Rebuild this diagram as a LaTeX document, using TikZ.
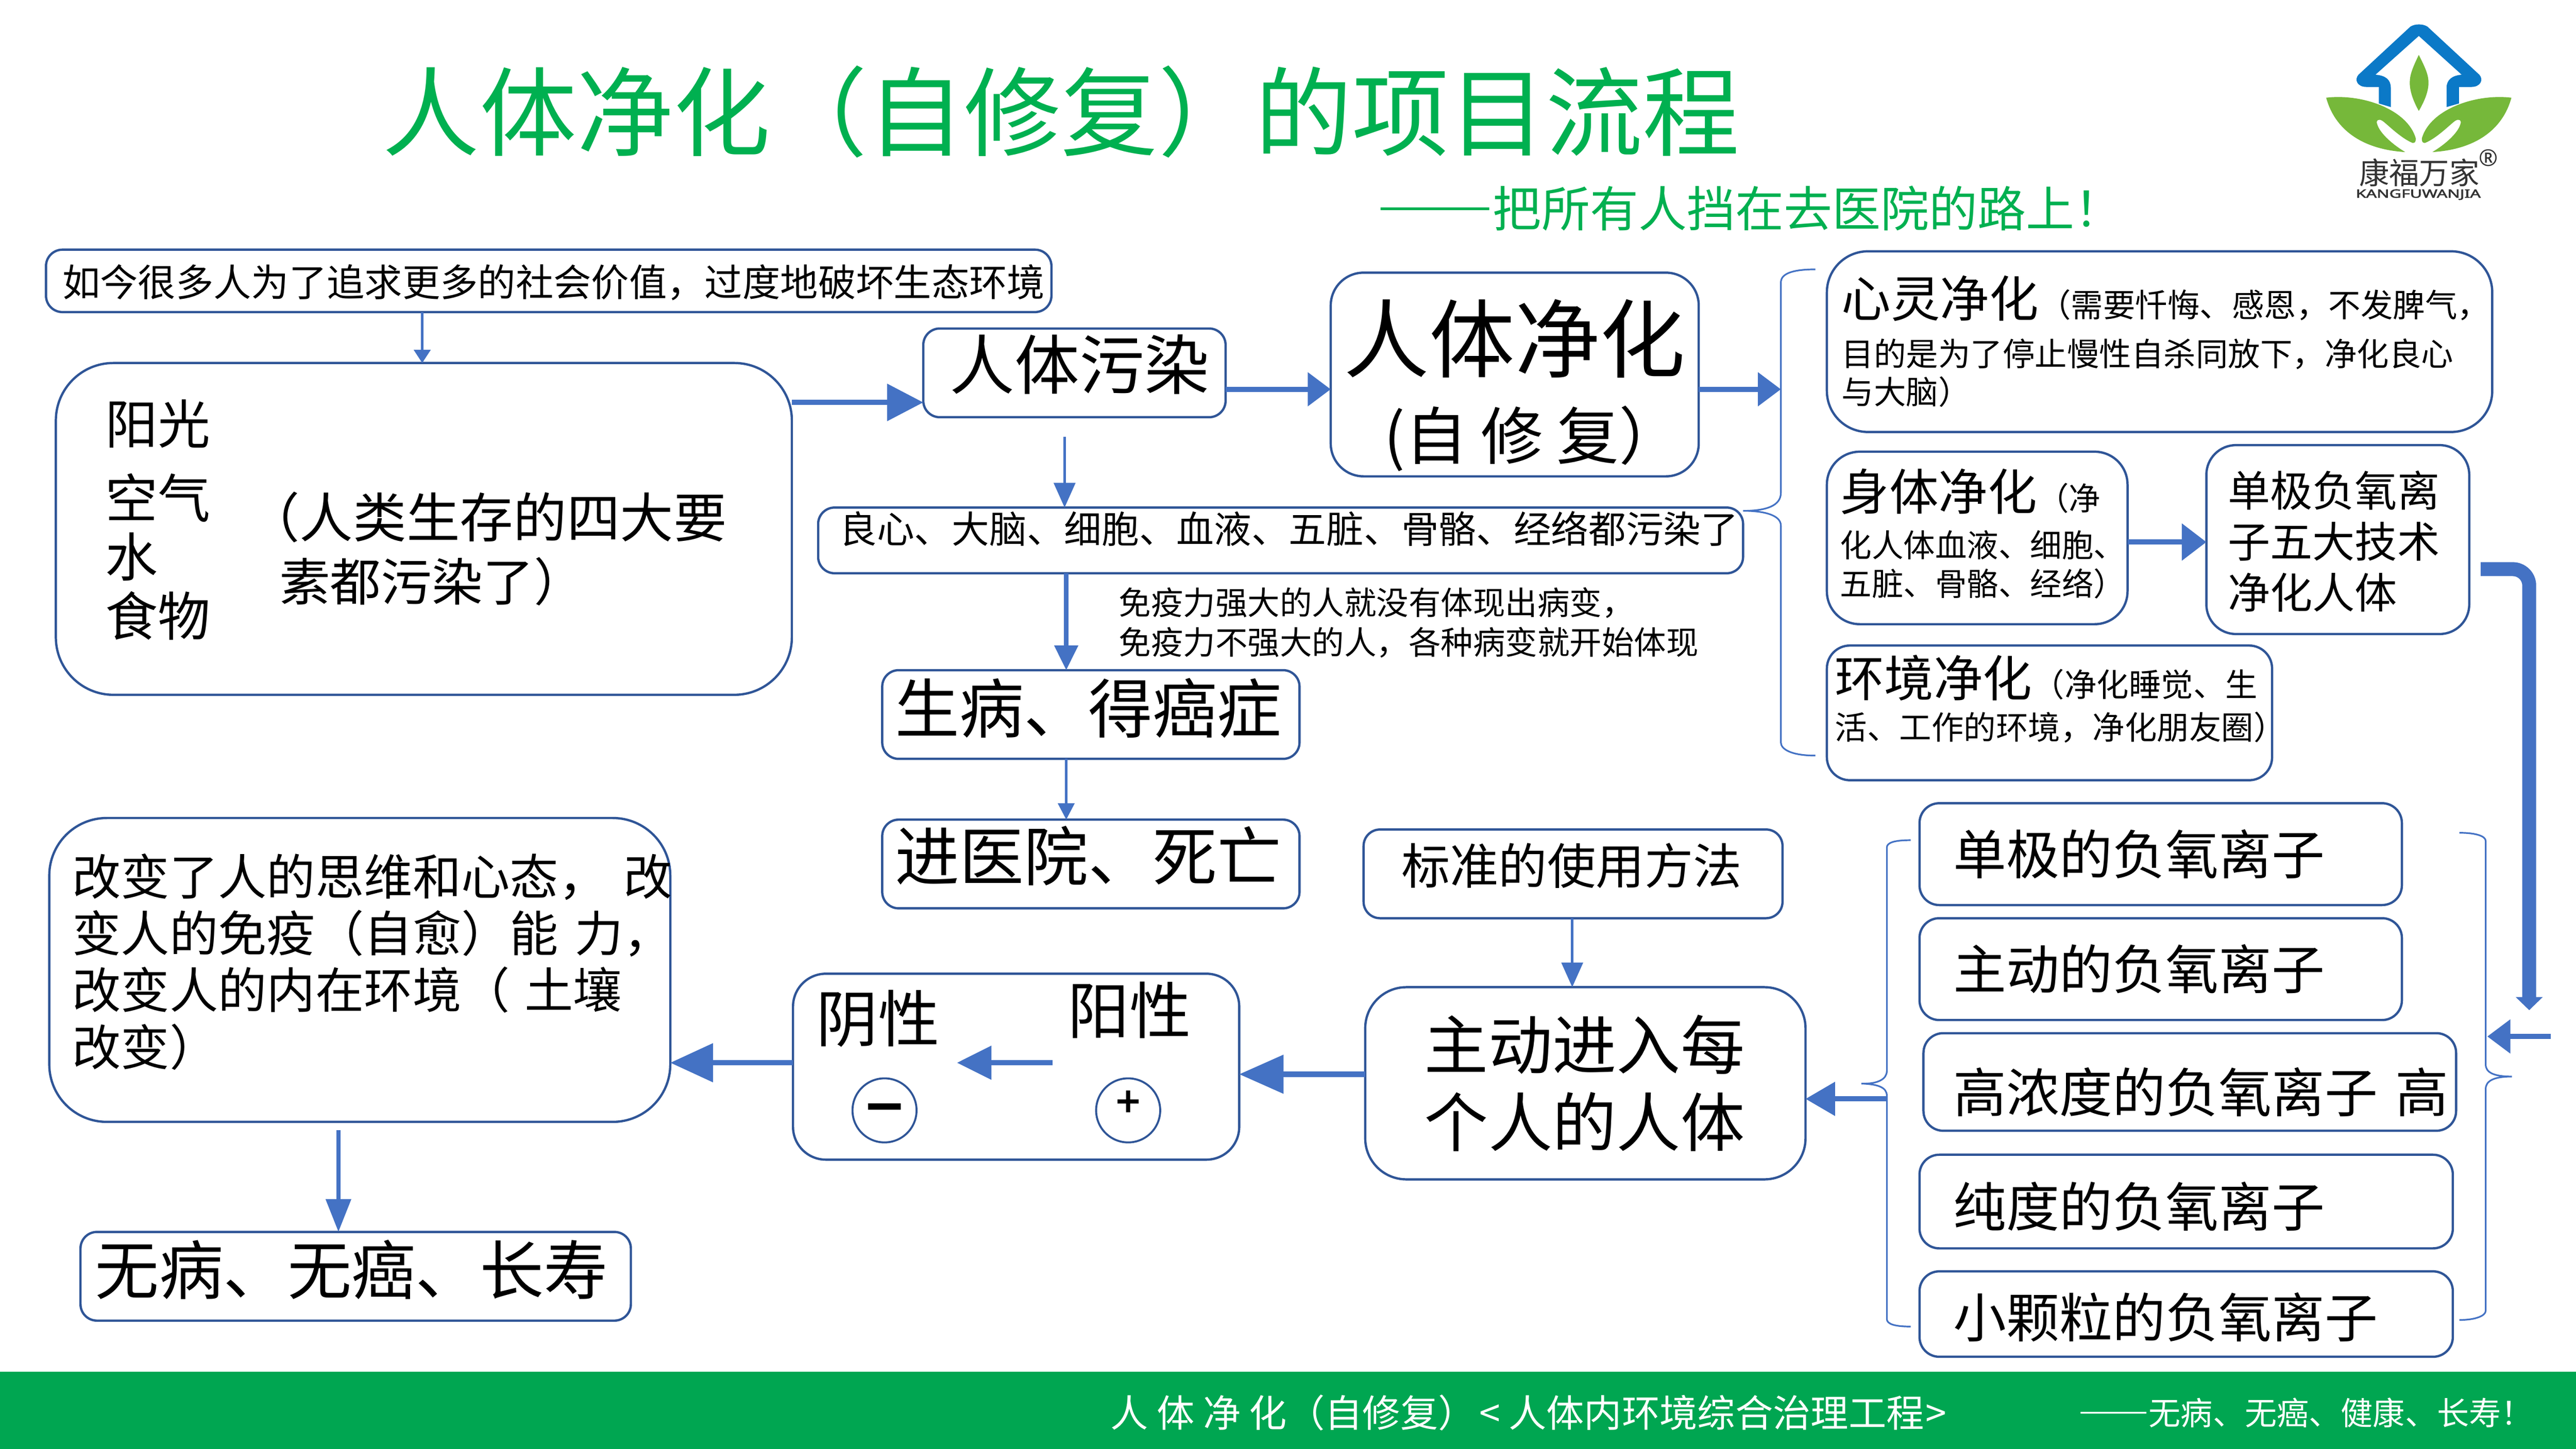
\documentclass[tikz,border=0pt]{standalone}
\usepackage{fontspec}
\usepackage{graphicx}
\setmainfont{Noto Sans CJK SC}
\newfontfamily\latinbold[FakeBold=2.5]{Noto Sans}
\usetikzlibrary{arrows.meta,calc}
\definecolor{boxblue}{HTML}{2F5597}
\definecolor{arrowblue}{HTML}{4472C4}
\definecolor{titlegreen}{HTML}{00B050}
\definecolor{footgreen}{HTML}{00A651}
\definecolor{logoblue}{HTML}{0B79C7}
\definecolor{logogreen}{HTML}{76B83A}
\newcommand{\fs}[2]{\fontsize{#1}{#2}\selectfont}
\newcommand{\up}[2]{\raisebox{#1pt}[\height][\depth]{#2}}
\newcommand{\fwdash}[1]{\scalebox{#1}[1]{\addfontfeatures{RawFeature=+fwid,FakeBold=1.5}——}}
\newcommand{\rb}[7][]{%
  \pgfmathsetmacro{\rbw}{#5-#3}\pgfmathsetmacro{\rbh}{#6-#4}%
  \pgfmathsetmacro{\rbtw}{#5-#3-2*#7}%
  \node[panel,minimum width=\rbw pt,minimum height=\rbh pt,inner xsep=#7 pt,text width=\rbtw pt,#1] (#2) at ({(#3+#5)/2},{(#4+#6)/2})}
\tikzset{
  panel/.style={draw=boxblue,line width=1.4pt,rounded corners=10pt,fill=white,align=left,inner ysep=0pt,outer sep=0pt,text=black},
  label/.style={inner sep=0pt,outer sep=0pt,anchor=west,text=black,align=left},
  thinarrow/.style={draw=arrowblue,line width=1.5pt,-{Triangle[length=15pt,width=13pt]}},
  medarrow/.style={draw=arrowblue,line width=2.6pt,-{Triangle[length=13pt,width=14pt]}},
  bigarrow/.style={draw=arrowblue,line width=3.2pt,-{Triangle[length=22pt,width=22pt]}},
  bracket/.style={draw=arrowblue,line width=1pt},
}
\begin{document}
\begin{tikzpicture}[x=1pt,y=-1pt]
\useasboundingbox (0,0) rectangle (1568,882);
\fill[white] (0,0) rectangle (1568,882);
% footer
\node[fill=footgreen,minimum width=1568pt,minimum height=47pt,inner sep=0pt,outer sep=0pt] (footer) at (784,858.5) {};
\node[label,text=white,font=\fs{23}{23}] (foota) at (676,860) {人 体 净 化（自修复）\hspace{2pt}<\hspace{5pt}人体内环境综合治理工程\hspace{1pt}>};
\node[label,text=white,font=\fs{19.5}{20}] (footb) at (1265,860) {\fwdash{1.1}无病、无癌、健康、长寿！};
% title
\node[label,text=titlegreen,font=\fs{59}{60}] (title) at (233,68) {人体净化（自修复）的项目流程};
\node[label,text=titlegreen,font=\fs{29.5}{30}] (subtitle) at (838,127) {\fwdash{1.2}把所有人挡在去医院的路上！};
% logo
\begin{scope}[shift={(1352.4,0)},xscale=0.1375,yscale=0.0875]
\fill[logoblue] (695,720) -- (695,605) -- (640,605) .. controls (600,605) and (585,555) .. (605,520) -- (835,185) .. controls (855,165) and (890,165) .. (910,185) -- (1140,520) .. controls (1160,555) and (1145,605) .. (1105,605) -- (1050,605) -- (1050,720) -- (995,745) -- (995,610) .. controls (995,555) and (1020,525) .. (1062,520) -- (872,250) -- (680,520) .. controls (725,525) and (748,555) .. (748,610) -- (748,745) -- cycle;
\fill[logogreen] (872,382) .. controls (900,470) and (915,520) .. (915,575) .. controls (915,640) and (895,710) .. (872,772) .. controls (850,710) and (832,640) .. (832,575) .. controls (832,520) and (845,470) .. (872,382) -- cycle;
\fill[logogreen] (462,680) .. controls (620,650) and (820,760) .. (858,960) .. controls (860,985) and (855,995) .. (845,995) .. controls (790,960) and (730,860) .. (710,840) .. controls (695,825) and (680,835) .. (688,865) .. controls (700,930) and (760,1010) .. (812,1058) .. controls (620,1040) and (500,900) .. (462,680) -- cycle;
\fill[logogreen] (1282,680) .. controls (1124,650) and (924,760) .. (886,960) .. controls (884,985) and (889,995) .. (899,995) .. controls (954,960) and (1014,860) .. (1034,840) .. controls (1049,825) and (1064,835) .. (1056,865) .. controls (1044,930) and (984,1010) .. (932,1058) .. controls (1124,1040) and (1244,900) .. (1282,680) -- cycle;
\end{scope}
\node[label,text=black!80,font=\fs{18.3}{19}] (logocn) at (1436,105) {康福万家};
\node[inner sep=0pt,text=black!80,font=\fontspec{Noto Sans}\fs{14}{14}] (logor) at (1514.6,96) {®};
\node[label,text=black!80,font=\latinbold\fs{7}{8}] (logoen) at (1434,118.5) {\scalebox{1.44}[1]{KANGFUWANJIA}};
% brackets
\draw[bracket] (1105,164) .. controls (1090,164) and (1084,167) .. (1084,172) -- (1084,300) .. controls (1084,308) and (1075,311) .. (1061,311) .. controls (1075,311) and (1084,314) .. (1084,320) -- (1084,452) .. controls (1084,456) and (1090,460) .. (1105,460);
\draw[bracket] (1163,511.5) .. controls (1153,511.5) and (1148.5,513) .. (1148.5,516) -- (1148.5,652) .. controls (1148.5,657) and (1143,660) .. (1133,659.7) .. controls (1143,660) and (1148.5,662) .. (1148.5,667) -- (1148.5,803) .. controls (1148.5,806) and (1153,807.6) .. (1163,807.6);
\draw[bracket] (1497,507) .. controls (1507,507) and (1513,509) .. (1513,512) -- (1513,648) .. controls (1513,653) and (1518,655.4) .. (1529,655.4) .. controls (1518,655.4) and (1513,658) .. (1513,663) -- (1513,798) .. controls (1513,801) and (1507,803.6) .. (1497,803.6);
% left column
\rb[font=\fs{23}{25}]{hook}{28}{152}{640}{190}{10}{\up{-1}{如今很多人为了追求更多的社会价值，过度地破坏生态环境}};
\rb[rounded corners=35pt]{four}{34}{221}{482}{423}{10}{};
\node[label,font=\fs{32}{34}] (sun) at (64,258) {阳光};
\node[label,font=\fs{32}{34}] (air) at (64,303) {空气};
\node[label,font=\fs{32}{34}] (water) at (64,339) {水};
\node[label,font=\fs{32}{34}] (food) at (64,375) {食物};
\node[label,font=\fs{32.5}{34}] (foura) at (150,315) {（人类生存的四大要};
\node[label,font=\fs{31}{34}] (fourb) at (170,354) {素都污染了）};
\draw[thinarrow,-{Triangle[length=8pt,width=10pt]}] (hook.south -| 257,0) -- (four.north -| 257,0);
% centre column
\rb[font=\fs{39.5}{42}]{pollute}{562}{200}{746}{254}{16}{\up{5}{人体污染}};
\rb[rounded corners=20pt,align=center]{body}{810}{166}{1034}{290}{4}{\up{-13}{\fs{52}{58}人体净化}\\[29pt]{\fs{38}{40}\hspace{22pt}(自\hspace{8pt}修\hspace{8pt}复）}};
\rb[font=\fs{22.8}{25}]{dirty}{498}{309}{1061}{349}{13}{\up{7}{良心、大脑、细胞、血液、五脏、骨骼、经络都污染了}};
\node[label,font=\fs{19.6}{24}] (note) at (681,379) {免疫力强大的人就没有体现出病变，\\免疫力不强大的人，各种病变就开始体现};
\rb[font=\fs{39.2}{42}]{ill}{537}{408}{791}{462}{8}{\up{4}{生病、得癌症}};
\rb[font=\fs{39.2}{42}]{hospital}{537}{499}{791}{553}{8}{\up{5}{进医院、死亡}};
\draw[bigarrow] (four.east |- 0,245) -- (pollute.west |- 0,245);
\draw[bigarrow,-{Triangle[length=14pt,width=20pt]}] (pollute.east |- 0,237) -- (body.west |- 0,237);
\draw[bigarrow,-{Triangle[length=14pt,width=20pt]}] (body.east |- 0,237) -- (1084,237);
\draw[thinarrow] (648,266) -- (dirty.north -| 648,0);
\draw[medarrow,-{Triangle[length=15pt,width=14pt]}] (dirty.south -| 649,0) -- (ill.north -| 649,0);
\draw[thinarrow,-{Triangle[length=10pt,width=10pt]}] (ill.south -| 649,0) -- (hospital.north -| 649,0);
% right column, top
\rb[rounded corners=25pt,font=\fs{19.6}{23.5}]{mind}{1112}{153}{1517}{263}{9}{\up{3}{{\fs{30}{30}心灵净化}（需要忏悔、感恩，不发脾气，}\\\up{-3}{目的是为了停止慢性自杀同放下，净化良心}\\\up{-3}{与大脑）}};
\rb[rounded corners=20pt,font=\fs{19.3}{23.5}]{bodyp}{1112}{275}{1295}{380}{8}{\up{5}{{\fs{30}{30}身体净化}（净}\\化人体血液、细胞、\\五脏、骨骼、经络）};
\rb[rounded corners=18pt,font=\fs{25.8}{31}]{five}{1343}{271}{1503}{386}{13}{\up{-1}{单极负氧离}\\\up{-1}{子五大技术}\\\up{-1}{净化人体}};
\rb[rounded corners=14pt,font=\fs{19.6}{27}]{envp}{1112}{393}{1383}{475}{5}{\up{8}{{\fs{30}{30}环境净化}（净化睡觉、生}\\\up{9}{活、工作的环境，净化朋友圈）}};
\draw[bigarrow,-{Triangle[length=15pt,width=22pt]}] (bodyp.east |- 0,330) -- (five.west |- 0,330);
% right column, ions
\rb[rounded corners=12pt,font=\fs{32.3}{34}]{ionA}{1168.4}{489}{1462}{551}{20.6}{单极的负氧离子};
\rb[rounded corners=12pt,font=\fs{32.3}{34}]{ionB}{1168.4}{559}{1462}{621}{20.6}{主动的负氧离子};
\rb[rounded corners=12pt,font=\fs{32.3}{34}]{ionC}{1170.8}{629}{1495}{688.4}{18.2}{\up{-6}{高浓度的负氧离子 高}};
\rb[rounded corners=12pt,font=\fs{32.3}{34}]{ionD}{1168.4}{703}{1493}{760}{20.6}{\up{-3}{纯度的负氧离子}};
\rb[rounded corners=12pt,font=\fs{32.3}{34}]{ionE}{1168.4}{774}{1493}{826}{20.6}{\up{-2}{小颗粒的负氧离子}};
% long bent arrow
\coordinate (bendstart) at (1510,346.5);
\coordinate (bendcorner) at (1539.5,346.5);
\coordinate (bendend) at (1539.5,615);
\draw[draw=arrowblue,line width=8.5pt,rounded corners=10pt,-{Triangle[length=8pt,width=16pt,sep=0pt]}] (bendstart) -- (bendcorner) -- (bendend);
\coordinate (intoa) at (1552.5,631);
\coordinate (intob) at (1514,631);
\draw[bigarrow,-{Triangle[length=14pt,width=20pt]}] (intoa) -- (intob);
% bottom flow
\rb[font=\fs{29.6}{32},rounded corners=10pt]{usage}{830}{505}{1085}{559}{23}{\up{5}{标准的使用方法}};
\rb[rounded corners=25pt,font=\fs{39}{47}]{enter}{831}{601}{1099}{718}{36}{主动进入每\\个人的人体};
\rb[rounded corners=20pt]{polar}{482.7}{592.8}{754.3}{706}{10}{};
\node[label,font=\fs{37.5}{38}] (yin) at (497,620) {阴性};
\node[label,font=\fs{37.5}{38}] (yang) at (650,615) {阳性};
\node[draw=boxblue,line width=1.2pt,circle,minimum size=39pt,inner sep=0pt,fill=white] (minus) at (538.4,676) {};
\node[draw=boxblue,line width=1.2pt,circle,minimum size=39pt,inner sep=0pt,fill=white] (plus) at (686.7,676) {};
\node[inner sep=0pt,font=\latinbold\fs{40}{40}] (minussign) at (538.4,680) {−};
\node[inner sep=0pt,font=\latinbold\fs{26}{26}] (plussign) at (686.7,672) {+};
\rb[rounded corners=35pt,font=\fs{29.6}{34.6}]{change}{30}{498}{408}{683}{14}{\up{5}{改变了人的思维和心态， 改}\\\up{5}{变人的免疫（自愈）能 力，}\\\up{5}{改变人的内在环境（\hspace{9pt}土壤}\\\up{5}{改变）}};
\rb[font=\fs{39}{42}]{health}{49}{750}{384}{804}{9}{\up{4}{无病、无癌、长寿}};
\draw[thinarrow] (usage.south -| 957,0) -- (enter.north -| 957,0);
\draw[bigarrow,-{Triangle[length=18pt,width=20pt]}] (1149,669) -- (enter.east |- 0,669);
\draw[bigarrow,-{Triangle[length=27pt,width=23pt]}] (enter.west |- 0,654) -- (polar.east |- 0,654);
\coordinate (ya) at (640.8,647);
\coordinate (yb) at (582.5,647);
\draw[bigarrow,-{Triangle[length=21pt,width=20pt]}] (ya) -- (yb);
\draw[bigarrow,-{Triangle[length=26pt,width=23pt]}] (polar.west |- 0,647) -- (change.east |- 0,647);
\draw[medarrow,-{Triangle[length=20pt,width=15pt]}] (206,688) -- (health.north -| 206,0);
\end{tikzpicture}
\end{document}
